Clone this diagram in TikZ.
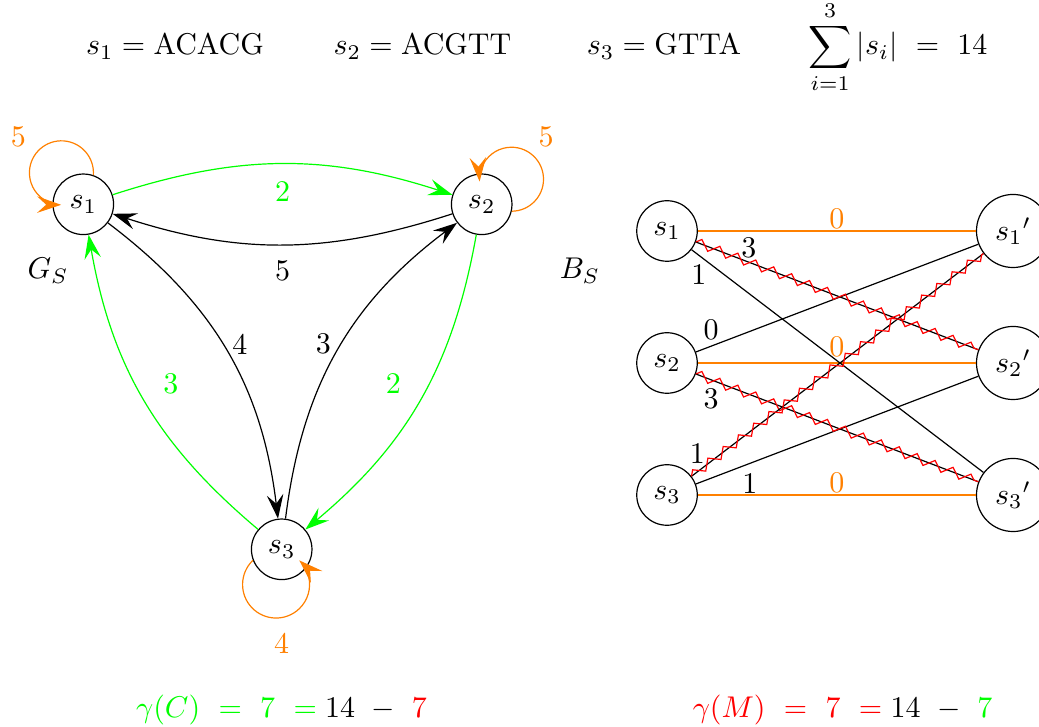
\documentclass[tikz,border=0pt]{standalone}
\usetikzlibrary{arrows.meta,decorations.pathmorphing}
\definecolor{myorange}{rgb}{1,0.5,0}
\definecolor{mygreen}{rgb}{0,1,0}
\definecolor{myred}{rgb}{1,0,0}
\begin{document}
\begin{tikzpicture}[x=0.33333pt,y=0.33333pt,
  vtx/.style={circle,draw,inner sep=.3333em},
  >={Stealth[length=8pt,width=5.5pt,inset=3pt]},
  grn/.style={draw=mygreen,->},
  blk/.style={draw=black,->},
  orgloop/.style={draw=myorange,->},
  orgline/.style={draw=myorange},
  lbl/.style={inner sep=0pt},
  zz/.style={draw=black, postaction={draw=myred, decorate, decoration={zigzag, amplitude=1.5pt, segment length=6.4pt}}}
]
\useasboundingbox (0,0) rectangle (1039,726);

% top line
\node[anchor=base] (t1) at (175,671) {$s_1 = \mathrm{ACACG}$};
\node[anchor=base] (t2) at (422.5,671) {$s_2 = \mathrm{ACGTT}$};
\node[anchor=base] (t3) at (664,671) {$s_3 = \mathrm{GTTA}$};
\node[anchor=base] (t4) at (898,671) {$\displaystyle\sum_{i=1}^{3} |s_i| \ = \ 14$};

% left graph
\node[vtx] (s1) at (83.3,521.7) {$s_1$};
\node[vtx] (s2) at (481.7,521.7) {$s_2$};
\node[vtx] (s3) at (281.7,176.7) {$s_3$};
\node (gs) at (48,455) {$G_S$};

\draw[grn] (s1) to[bend left=18] node[lbl, midway, shift={(0,-27.7)}, text=mygreen] {2} (s2);
\draw[blk] (s2) to[bend left=18] node[lbl, midway, shift={(0,-26)}] {5} (s1);
\draw[blk] (s1) to[bend left=23] node[lbl, midway, shift={(13,7)}] {4} (s3);
\draw[blk] (s3) to[bend left=23] node[lbl, midway, shift={(-14,7)}] {3} (s2);
\draw[grn] (s3) to[bend left=20] node[lbl, midway, shift={(27,15.6)}, text=mygreen] {3} (s1);
\draw[grn] (s2) to[bend left=20] node[lbl, midway, shift={(-27,15.6)}, text=mygreen] {2} (s3);

\draw[orgloop] (s1.71.6) arc[start angle=-4.1, end angle=269.5, radius=10.667pt]
  node[lbl, text=myorange] at ([shift={(-65,67.6)}]s1) {5};
\draw[orgloop] (s2.-13.8) arc[start angle=-89.5, end angle=184.1, radius=10.667pt]
  node[lbl, text=myorange] at ([shift={(64.3,67.3)}]s2) {5};
\draw[orgloop] (s3.201.9) arc[start angle=133.8, end angle=406.2, radius=11.167pt]
  node[lbl, text=myorange] at ([shift={(0,-94)}]s3) {4};

% right graph
\node (bs) at (580,455) {$B_S$};
\node[vtx] (r1) at (667,495) {$s_1$};
\node[vtx] (r2) at (667,363) {$s_2$};
\node[vtx] (r3) at (667,231) {$s_3$};
\node[vtx] (q1) at (1013,495) {${s_1}'$};
\node[vtx] (q2) at (1013,363) {${s_2}'$};
\node[vtx] (q3) at (1013,231) {${s_3}'$};

\draw[orgline] (r1) -- node[lbl, midway, shift={(0,12.4)}, text=myorange] {0} (q1);
\draw[orgline] (r2) -- node[lbl, midway, shift={(0,16.6)}, text=myorange] {0} (q2);
\draw[orgline] (r3) -- node[lbl, midway, shift={(0,11.7)}, text=myorange] {0} (q3);

\draw (r1) -- node[lbl, pos=0.025, shift={(0,-19.4)}] {1} (q3);
\draw (r2) -- node[lbl, pos=0.054, shift={(0,16.2)}] {0} (q1);
\draw (r3) -- node[lbl, pos=0.191, shift={(0,-20.4)}] {1} (q2);

\draw[zz] (r1) -- node[lbl, pos=0.188, shift={(0,14.4)}] {3} (q2);
\draw[zz] (r2) -- node[lbl, pos=0.054, shift={(0,-18.6)}] {3} (q3);
\draw[zz] (r3) -- node[lbl, pos=0.02, shift={(0,18.3)}] {1} (q1);

% bottom formulas
\node[anchor=base] (fc) at (281.5,9) {$\color{mygreen}\gamma(C)\ =\ 7\ =\color{black}14\ -\ \color{myred}7$};
\node[anchor=base] (fm) at (842.5,9) {$\color{myred}\gamma(M)\ =\ 7\ =\color{black}14\ -\ \color{mygreen}7$};
\end{tikzpicture}
\end{document}
